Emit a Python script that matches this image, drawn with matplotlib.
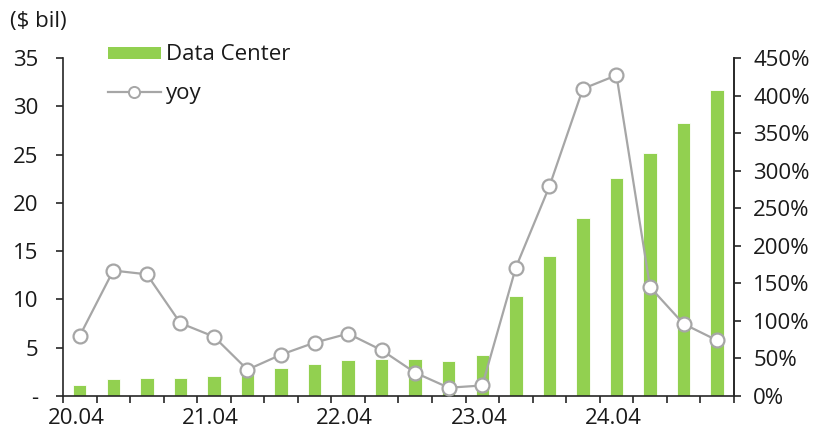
import numpy as np
import matplotlib
matplotlib.use("Agg")
import matplotlib.pyplot as plt
import matplotlib.ticker as mticker
from matplotlib.lines import Line2D
from matplotlib.patches import Patch

plt.rcParams["font.family"] = ["Open Sans", "DejaVu Sans"]

# Quarterly data center revenue ($ bil) and yoy growth (%)
quarters = ["20.04", "20.07", "20.10", "21.01", "21.04", "21.07", "21.10", "22.01",
            "22.04", "22.07", "22.10", "23.01", "23.04", "23.07", "23.10", "24.01",
            "24.04", "24.07", "24.10", "25.01"]
revenue = [1.14, 1.75, 1.90, 1.90, 2.05, 2.37, 2.94, 3.26, 3.75, 3.81,
           3.83, 3.62, 4.28, 10.32, 14.51, 18.40, 22.56, 25.2, 28.3, 31.7]
yoy = [80, 167, 162, 97, 79, 35, 55, 71, 83, 61,
       31, 11, 14, 171, 279, 409, 427, 145, 96, 74]
tick_labels = ["20.04", "21.04", "22.04", "23.04", "24.04"]

BAR_COLOR = "#92D050"
LINE_COLOR = "#A6A6A6"
TEXT_COLOR = "#1a1a1a"
FS = 16

fig = plt.figure(figsize=(8.22, 4.34), dpi=100)
ax = fig.add_axes([0.0766, 0.0876, 0.8162, 0.7788])
ax2 = ax.twinx()

x = np.arange(len(quarters))
ax.bar(x, revenue, width=0.4, color=BAR_COLOR, edgecolor="white", linewidth=0.6)
ax2.plot(x, yoy, color=LINE_COLOR, linewidth=1.6, marker="o", markersize=10,
         markerfacecolor="white", markeredgecolor=LINE_COLOR, markeredgewidth=1.6)

ax.set_xlim(-0.5, len(quarters) - 0.5)
ax.set_ylim(0, 35)
ax2.set_ylim(0, 450)

# tick marks on quarter boundaries, year labels under the first quarter of each year
bounds = np.arange(-0.5, len(quarters), 1.0)
ax.set_xticks(bounds)
ax.set_xticklabels([])
ax.set_xticks(np.arange(0, len(quarters), 4) - 0.1, minor=True)
ax.set_xticklabels(tick_labels, minor=True)
ax.tick_params(axis="x", which="minor", length=0, labelsize=FS, pad=9,
               labelcolor=TEXT_COLOR)

ax.set_yticks(np.arange(0, 36, 5))
ax.yaxis.set_major_formatter(mticker.FuncFormatter(lambda v, _: "-" if v == 0 else f"{int(v)}"))
ax2.set_yticks(np.arange(0, 451, 50))
ax2.yaxis.set_major_formatter(mticker.FuncFormatter(lambda v, _: f"{int(v)}%"))

for a in (ax, ax2):
    a.spines["top"].set_visible(False)
    for s in a.spines.values():
        s.set_color("#262626")
        s.set_linewidth(1.2)
    a.tick_params(which="major", labelsize=FS, colors="#262626", labelcolor=TEXT_COLOR,
                  length=5, width=1.2)
ax.tick_params(axis="y", pad=13)
ax2.tick_params(axis="y", pad=9)
ax2.spines["left"].set_visible(False)
ax2.spines["bottom"].set_visible(False)

fig.text(0.012, 0.95, "($ bil)", fontsize=FS, color=TEXT_COLOR, va="center")

handles = [
    Patch(facecolor=BAR_COLOR, edgecolor="none"),
    Line2D([0], [0], color=LINE_COLOR, linewidth=1.6, marker="o", markersize=8,
           markerfacecolor="white", markeredgecolor=LINE_COLOR, markeredgewidth=1.4),
]
leg = fig.legend(handles, ["Data Center", "yoy"], loc="upper left",
                 bbox_to_anchor=(0.121, 0.918), frameon=False, fontsize=FS,
                 handlelength=2.35, handleheight=0.45, handletextpad=0.25,
                 labelspacing=0.78, borderaxespad=0)
for t in leg.get_texts():
    t.set_color(TEXT_COLOR)

fig.savefig("out.png", dpi=100)
